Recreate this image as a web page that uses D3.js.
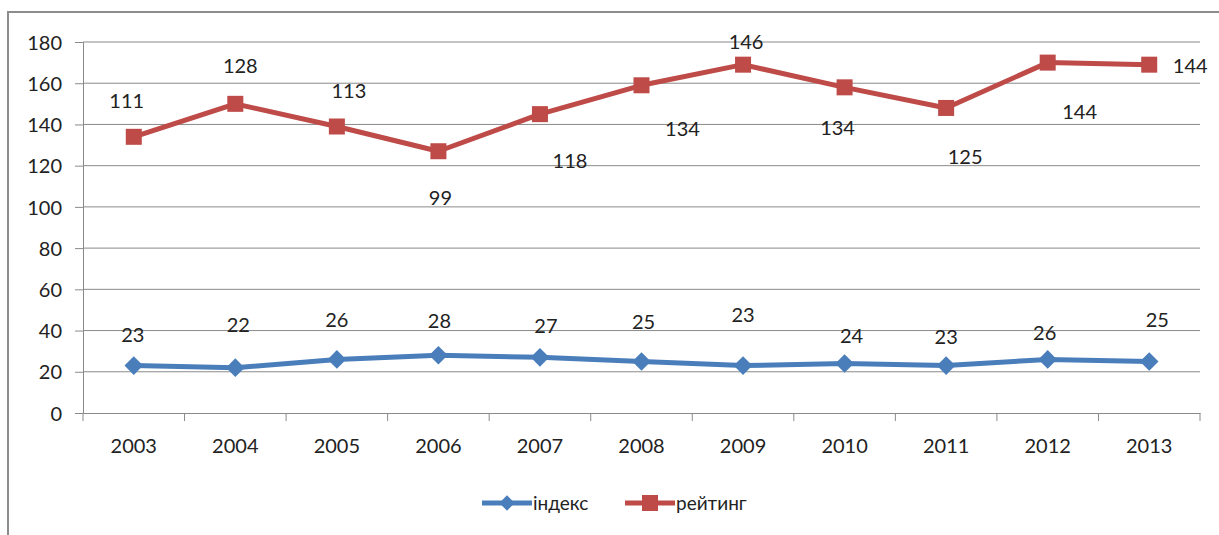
<!DOCTYPE html>
<html lang="uk">
<head>
  <meta charset="UTF-8">
  <title>індекс / рейтинг 2003-2013</title>
  <script src="https://d3js.org/d3.v7.min.js"></script>
  <style>
    body { margin: 0; background: #fff; }
    svg text { font-family: Lato, "Open Sans", sans-serif; fill: #222; }
  </style>
</head>
<body>
<script>
  // categories and series
  const years = ['2003', '2004', '2005', '2006', '2007', '2008', '2009', '2010', '2011', '2012', '2013'];
  const indexValues = [23, 22, 26, 28, 27, 25, 23, 24, 23, 26, 25];
  // plotted positions of the rating line (its labels show other numbers)
  const ratingValues = [134, 150, 139, 127, 145, 159, 169, 158, 148, 170, 169];
  const ratingLabels = [111, 128, 113, 99, 118, 134, 146, 134, 125, 144, 144];
  const yTicks = [0, 20, 40, 60, 80, 100, 120, 140, 160, 180];
  const seriesNames = ['індекс', 'рейтинг'];

  const width = 1219, height = 535;
  const blue = '#4a7ebb', red = '#be4b48';

  const svg = d3.select('body').append('svg')
    .attr('width', width)
    .attr('height', height);

  // chart frame (runs off the right and bottom edges)
  svg.append('rect')
    .attr('x', 8).attr('y', 12)
    .attr('width', 1400).attr('height', 700)
    .attr('fill', 'none')
    .attr('stroke', '#8c8c8c')
    .attr('stroke-width', 2);

  const x = d3.scaleBand().domain(years).range([83, 1200]);
  const y = d3.scaleLinear().domain([0, 180]).range([413, 42]);
  const cx = d => x(d) + x.bandwidth() / 2;

  // gridlines
  svg.append('g')
    .selectAll('line')
    .data(yTicks.filter(t => t > 0))
    .enter().append('line')
    .attr('x1', 83).attr('x2', 1200)
    .attr('y1', d => y(d)).attr('y2', d => y(d))
    .attr('stroke', '#8a8a8a')
    .attr('stroke-width', 1);

  // y axis
  const yAxis = svg.append('g')
    .attr('transform', 'translate(83,0)')
    .call(d3.axisLeft(y).tickValues(yTicks).tickSize(8).tickPadding(13));
  yAxis.selectAll('line, path').attr('stroke', '#8a8a8a');
  yAxis.selectAll('text').style('font-size', '20px').attr('dy', '0.36em');

  // x axis with tick marks on the category boundaries
  const xAxis = svg.append('g')
    .attr('transform', 'translate(0,413)')
    .call(d3.axisBottom(x).tickSize(0).tickPadding(26));
  xAxis.select('path').attr('stroke', '#8a8a8a');
  xAxis.selectAll('text').style('font-size', '20px');
  svg.append('g')
    .selectAll('line')
    .data(years.map(d => x(d)).concat([1200]))
    .enter().append('line')
    .attr('x1', d => d).attr('x2', d => d)
    .attr('y1', 413).attr('y2', 421)
    .attr('stroke', '#8a8a8a');

  const line = d3.line().x((d, i) => cx(years[i])).y(d => y(d));

  // rating series
  svg.append('path')
    .datum(ratingValues)
    .attr('d', line)
    .attr('fill', 'none')
    .attr('stroke', red)
    .attr('stroke-width', 5)
    .attr('stroke-linejoin', 'round');
  svg.append('g').selectAll('rect')
    .data(ratingValues)
    .enter().append('rect')
    .attr('x', (d, i) => cx(years[i]) - 8)
    .attr('y', d => y(d) - 8)
    .attr('width', 16).attr('height', 16)
    .attr('fill', red);

  // index series
  svg.append('path')
    .datum(indexValues)
    .attr('d', line)
    .attr('fill', 'none')
    .attr('stroke', blue)
    .attr('stroke-width', 5)
    .attr('stroke-linejoin', 'round');
  const diamond = d3.symbol().type(d3.symbolDiamond2).size(220);
  svg.append('g').selectAll('path')
    .data(indexValues)
    .enter().append('path')
    .attr('d', diamond)
    .attr('transform', (d, i) => `translate(${cx(years[i])},${y(d)})`)
    .attr('fill', blue);

  // hand-placed label nudges, as in the original chart
  const ratingNudge = [[-7, -29], [5, -31], [12, -29], [2, 54], [30, 54], [41, 51],
                       [3, -16], [-7, 48], [19, 56], [32, 56], [41, 8]];
  const indexNudge = [[-1, -24], [3, -36], [0, -32], [1, -27], [6, -24], [2, -32],
                      [0, -44], [7, -21], [0, -22], [-3, -19], [8, -34]];

  svg.append('g').selectAll('text')
    .data(ratingLabels)
    .enter().append('text')
    .attr('x', (d, i) => cx(years[i]) + ratingNudge[i][0])
    .attr('y', (d, i) => y(ratingValues[i]) + ratingNudge[i][1])
    .attr('text-anchor', 'middle')
    .style('font-size', '20px')
    .text(d => d);

  svg.append('g').selectAll('text')
    .data(indexValues)
    .enter().append('text')
    .attr('x', (d, i) => cx(years[i]) + indexNudge[i][0])
    .attr('y', (d, i) => y(d) + indexNudge[i][1])
    .attr('text-anchor', 'middle')
    .style('font-size', '20px')
    .text(d => d);

  // legend
  const legend = svg.append('g').attr('transform', 'translate(482,503)');
  const items = [
    { name: seriesNames[0], color: blue, shape: 'diamond', x: 0 },
    { name: seriesNames[1], color: red, shape: 'square', x: 143 }
  ];
  items.forEach(it => {
    const g = legend.append('g').attr('transform', `translate(${it.x},0)`);
    g.append('line')
      .attr('x1', 0).attr('x2', 50)
      .attr('stroke', it.color)
      .attr('stroke-width', 5);
    if (it.shape === 'diamond') {
      g.append('path')
        .attr('d', d3.symbol().type(d3.symbolDiamond2).size(150))
        .attr('transform', 'translate(25,0)')
        .attr('fill', it.color);
    } else {
      g.append('rect')
        .attr('x', 17).attr('y', -8)
        .attr('width', 16).attr('height', 16)
        .attr('fill', it.color);
    }
    g.append('text')
      .attr('x', 51).attr('y', 7)
      .style('font-size', '19px')
      .text(it.name);
  });
</script>
</body>
</html>
